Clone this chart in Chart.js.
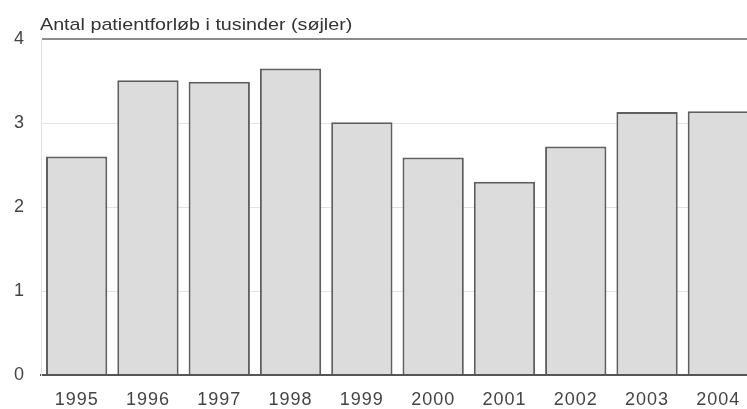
<!DOCTYPE html>
<html>
<head>
<meta charset="utf-8">
<script src="https://cdn.jsdelivr.net/npm/chart.js@4.4.1/dist/chart.umd.min.js"></script>
<style>
    html, body { margin: 0; padding: 0; background: #fff; overflow: hidden; }
    #wrap { width: 757px; height: 409px; }
</style>
</head>
<body>
<div id="wrap"><canvas id="chart"></canvas></div>
<script>
const chartTitle = 'Antal patientforløb i tusinder (søjler)';
const years = ['1995', '1996', '1997', '1998', '1999', '2000', '2001', '2002', '2003', '2004'];
const patientCourses = [2.60, 3.51, 3.49, 3.65, 3.01, 2.59, 2.30, 2.72, 3.13, 3.14];
const yTicks = [0, 1, 2, 3, 4];

const fontFamily = '"Liberation Sans", Arial, sans-serif';

// the printed original uses a slightly wide-set face
const spacing = {
    id: 'spacing',
    beforeDraw(chart) {
        chart.ctx.letterSpacing = '1px';
    },
};

// title sits left-aligned on the plot edge, stretched a little like the original
const topLabel = {
    id: 'topLabel',
    afterDraw(chart) {
        const ctx = chart.ctx;
        ctx.save();
        ctx.letterSpacing = '0px';
        ctx.font = '17px ' + fontFamily;
        ctx.fillStyle = '#333';
        ctx.textBaseline = 'alphabetic';
        ctx.textAlign = 'left';
        ctx.translate(chart.chartArea.left - 1, 30);
        ctx.scale(1.16, 1);
        ctx.fillText(chartTitle, 0, 0);
        ctx.restore();
    },
};

new Chart(document.getElementById('chart'), {
    type: 'bar',
    data: {
        labels: years,
        datasets: [
            {
                data: patientCourses,
                backgroundColor: '#dcdcdc',
                borderColor: '#5f5f5f',
                borderWidth: 2,
                barPercentage: 0.86,
                categoryPercentage: 1,
            },
        ],
    },
    options: {
        responsive: true,
        maintainAspectRatio: false,
        animation: false,
        layout: { padding: { top: 39, right: 3, left: 0, bottom: 0 } },
        plugins: {
            legend: { display: false },
            tooltip: { enabled: false },
        },
        scales: {
            x: {
                grid: { display: false },
                border: { color: '#555', width: 2 },
                ticks: {
                    color: '#444',
                    font: { family: fontFamily, size: 18 },
                    padding: 6,
                    maxRotation: 0,
                },
                afterFit: (scale) => { scale.height = 34; },
            },
            y: {
                min: 0,
                max: 4,
                afterBuildTicks: (scale) => { scale.ticks = yTicks.map((v) => ({ value: v })); },
                border: { display: true, color: '#e2e2e2', width: 1 },
                grid: {
                    drawTicks: false,
                    color: (c) => (c.tick.value === 4 ? '#8c8c8c' : c.tick.value === 0 ? '#555' : '#e2e2e2'),
                    lineWidth: (c) => (c.tick.value === 4 || c.tick.value === 0 ? 2 : 1),
                },
                ticks: {
                    color: '#444',
                    font: { family: fontFamily, size: 18 },
                    padding: 16,
                },
                afterFit: (scale) => { scale.width = 41; },
            },
        },
    },
    plugins: [spacing, topLabel],
});
</script>
</body>
</html>
